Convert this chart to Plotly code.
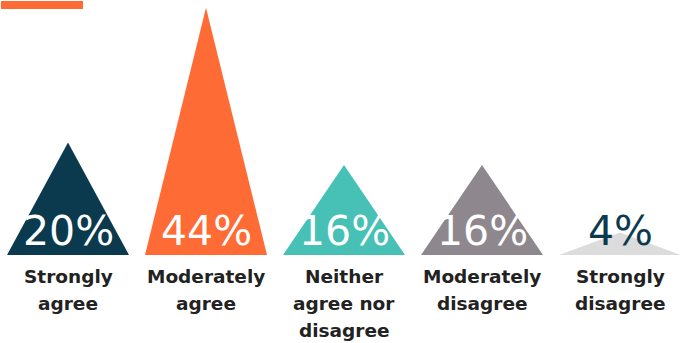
import plotly.graph_objects as go

categories = ["Strongly<br>agree", "Moderately<br>agree", "Neither<br>agree nor<br>disagree",
              "Moderately<br>disagree", "Strongly<br>disagree"]
values = [20, 44, 16, 16, 4]
pct_labels = ["20%", "44%", "16%", "16%", "4%"]
colors = ["#0b3a4f", "#ff6b35", "#47c0b6", "#8e888e", "#dcdcdc"]
label_colors = ["#ffffff", "#ffffff", "#ffffff", "#ffffff", "#0b3a4f"]

W, H = 680, 343
spacing_px = 138.0
first_px = 68.0
half_w = 61.0 / spacing_px
base_px_from_bottom = 88.0
px_per_unit = 5.62
line_gap = 27

fig = go.Figure()
for i, (v, c) in enumerate(zip(values, colors)):
    fig.add_trace(go.Scatter(
        x=[i - half_w, i, i + half_w, i - half_w],
        y=[0, v, 0, 0],
        fill="toself", fillcolor=c, mode="lines",
        line=dict(width=0, color=c), hoverinfo="skip", showlegend=False,
    ))
    fig.add_annotation(
        x=i, y=0, text=pct_labels[i], showarrow=False,
        yanchor="middle", yshift=24,
        font=dict(family="DejaVu Sans", size=41, color=label_colors[i]),
    )
    for k, line in enumerate(categories[i].split("<br>")):
        fig.add_annotation(
            x=i, y=0, text=line, showarrow=False,
            yanchor="top", yshift=-9 - k * line_gap,
            font=dict(family="DejaVu Sans", size=18.5, color="#222222", weight="bold"),
        )

fig.add_shape(type="rect", xref="paper", yref="paper",
              x0=1 / W, x1=83 / W, y0=1 - 9 / H, y1=1 - 1 / H,
              fillcolor="#ff6b35", line=dict(width=0))

fig.update_layout(
    width=W, height=H, margin=dict(l=0, r=0, t=0, b=0),
    paper_bgcolor="white", plot_bgcolor="white",
    xaxis=dict(range=[-first_px / spacing_px, (W - first_px) / spacing_px],
               visible=False, fixedrange=True),
    yaxis=dict(range=[-base_px_from_bottom / px_per_unit, (H - base_px_from_bottom) / px_per_unit],
               visible=False, fixedrange=True),
)
fig.write_html("out.html", config={"displayModeBar": False},
               post_script="document.body.style.margin='0';")
